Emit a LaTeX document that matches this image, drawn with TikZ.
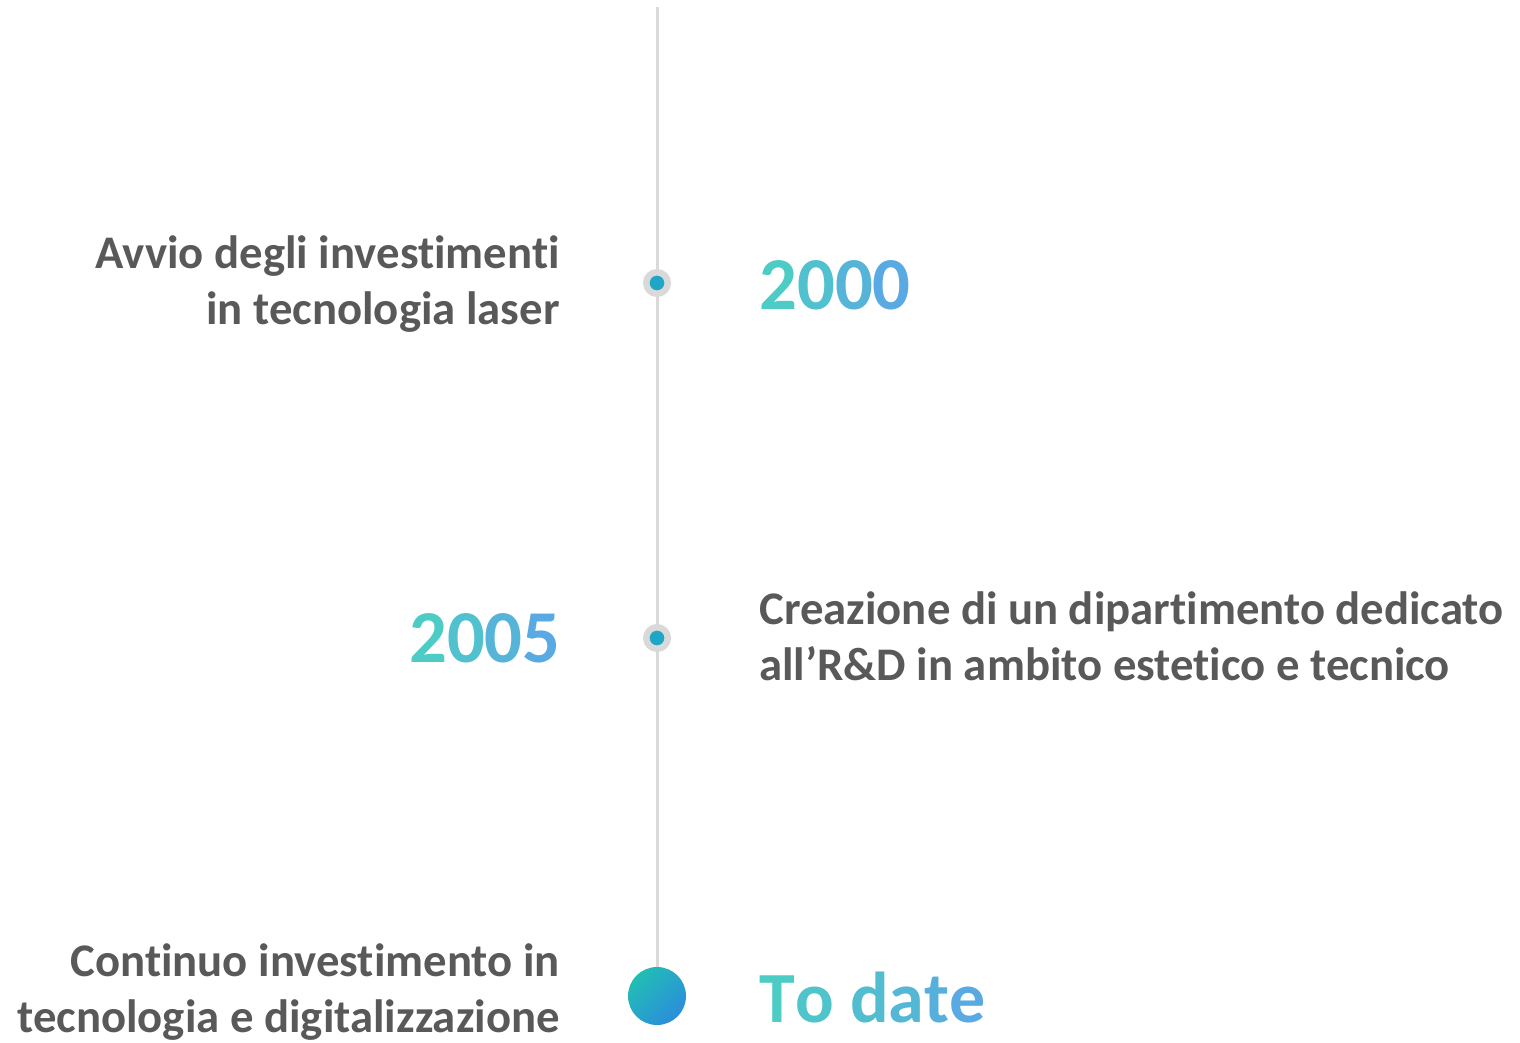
\documentclass[tikz,border=0pt]{standalone}
\usepackage{fontspec}
\setmainfont{Carlito}[RawFeature={-liga}]
\usepackage{tikz}

\definecolor{txtgray}{HTML}{595959}
\definecolor{linegray}{HTML}{D9D9D9}
\definecolor{yrA}{HTML}{4DCBC5}
\definecolor{yrB}{HTML}{59A9E2}
\definecolor{dotblue}{HTML}{1FA6C6}
\definecolor{nowA}{HTML}{22BDB4}
\definecolor{nowB}{HTML}{2A8EDC}

\tikzset{
	event/.style={text=txtgray, font=\fontsize{26.6}{31.8}\selectfont\bfseries, inner sep=0pt},
	year/.style={font=\fontsize{42.5}{50}\selectfont\bfseries, inner sep=0pt},
	dotsmall/.style={circle, fill=dotblue, draw=linegray, line width=0.13cm, minimum size=0.43cm, inner sep=0pt},
	dotbig/.style={circle, left color=nowA, right color=nowB, shading angle=45, minimum size=1.16cm, inner sep=0pt}
}

\begin{document}
\begin{tikzpicture}[x=0.02cm, y=-0.02cm]

	\useasboundingbox (0,0) rectangle (1520,1043);

	% timeline
	\coordinate (top) at (657,7);
	\coordinate (end) at (657,996);
	\draw[linegray, line width=0.06cm] (top) -- (end);

	\node[dotsmall] (d1) at (657,283) {};
	\node[dotsmall] (d2) at (657,638) {};
	\node[dotbig] (d3) at (end) {};

	% 2000
	\node[event, anchor=east, align=right] (e1) at (560,284) {Avvio degli investimenti\\in tecnologia laser};
	\node[year, anchor=west] (y1) at (759,285) {\textcolor{yrA}{2}\textcolor{yrA!67!yrB}{0}\textcolor{yrA!33!yrB}{0}\textcolor{yrB}{0}};

	% 2005
	\node[year, anchor=east] (y2) at (561,638) {\textcolor{yrA}{2}\textcolor{yrA!67!yrB}{0}\textcolor{yrA!33!yrB}{0}\textcolor{yrB}{5}};
	\node[event, anchor=west, align=left] (e2) at (759,636) {Creazione di un dipartimento dedicato\\all’R\&D in ambito estetico e tecnico};

	% to date
	\node[event, anchor=east, align=right] (e3) at (560,992) {Continuo investimento in\\tecnologia e digitalizzazione};
	\node[year, font=\fontsize{41}{48}\selectfont\bfseries, anchor=west] (y3) at (759,997) {\textcolor{yrA}{T}\textcolor{yrA!80!yrB}{o} \textcolor{yrA!60!yrB}{d}\textcolor{yrA!40!yrB}{a}\textcolor{yrA!20!yrB}{t}\textcolor{yrB}{e}};

\end{tikzpicture}
\end{document}
